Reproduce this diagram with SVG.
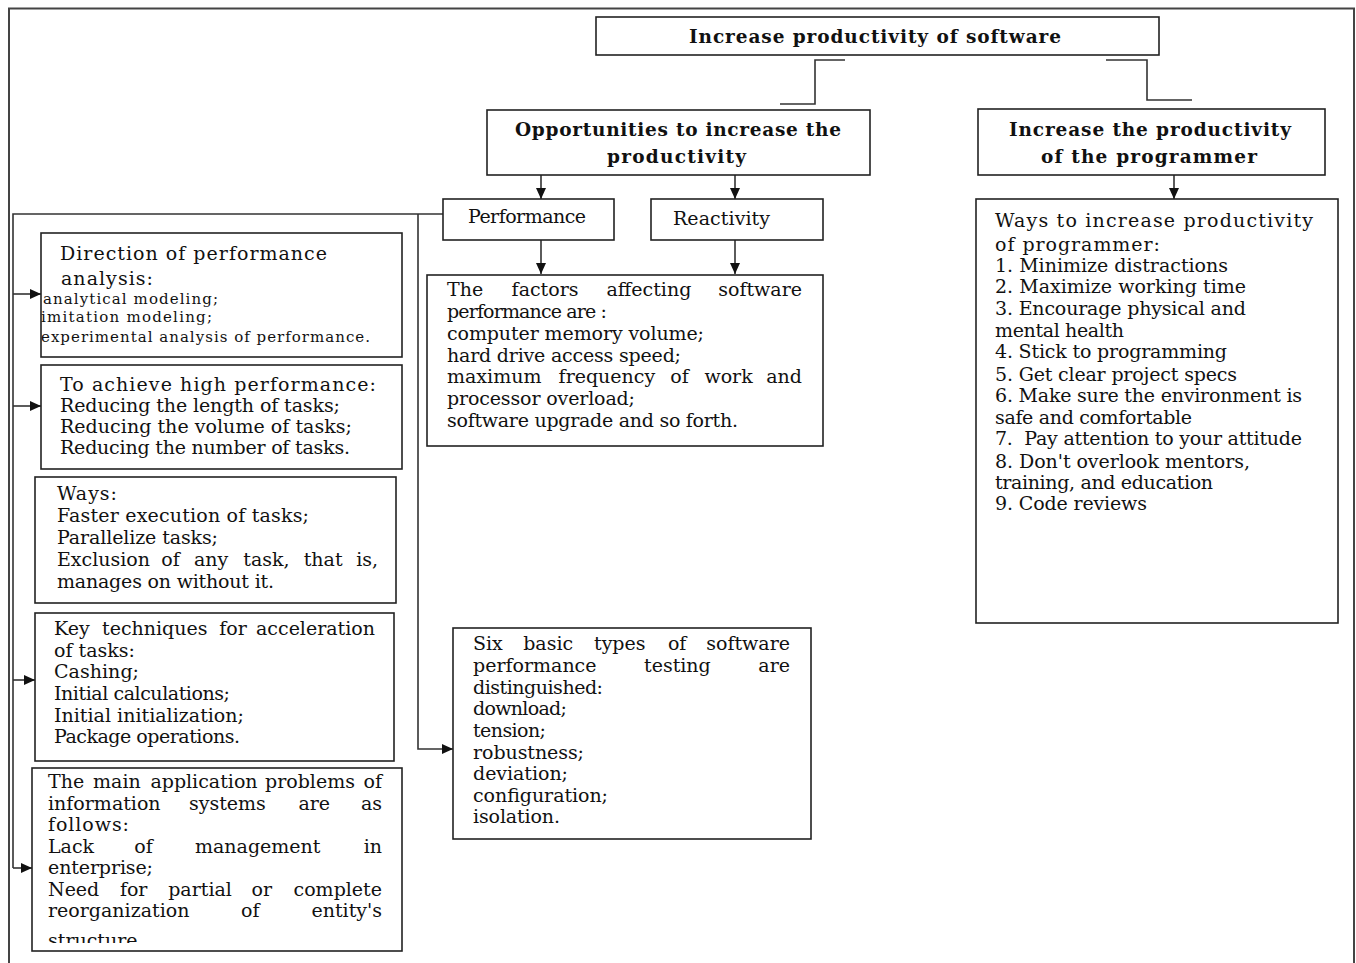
<svg xmlns="http://www.w3.org/2000/svg" width="1356" height="963" viewBox="0 0 1356 963">
<style>
.box{fill:#fff;stroke:#222;stroke-width:1.6}
.t{font-family:"DejaVu Serif","Liberation Serif",serif;font-size:19px;fill:#111}
.s{font-family:"DejaVu Serif","Liberation Serif",serif;font-size:15px;fill:#111}
.b{font-family:"DejaVu Serif","Liberation Serif",serif;font-size:18.5px;font-weight:bold;fill:#111}
.c{fill:none;stroke:#333;stroke-width:1.6}
.e{text-anchor:end}
</style>
<defs>
<marker id="ah" viewBox="0 0 11 10" refX="11" refY="5" markerWidth="11" markerHeight="10" markerUnits="userSpaceOnUse" orient="auto">
<path d="M0,0 L11,5 L0,10 z" fill="#111"/>
</marker>
<clipPath id="clipMain"><rect x="32" y="768" width="370" height="175"/></clipPath>
</defs>
<rect x="0" y="0" width="1356" height="963" fill="#fff"/>
<rect id="frame" x="9" y="8.5" width="1345" height="1000" fill="none" stroke="#444" stroke-width="2"/>

<g id="connectors">
<path class="c" d="M845,60 H815 V104 H780"/>
<path class="c" d="M1106,60 H1147 V100 H1192"/>
<path class="c" d="M541,175 V199" marker-end="url(#ah)"/>
<path class="c" d="M735,175 V199" marker-end="url(#ah)"/>
<path class="c" d="M1174,175 V199" marker-end="url(#ah)"/>
<path class="c" d="M541,240 V274" marker-end="url(#ah)"/>
<path class="c" d="M735,240 V274" marker-end="url(#ah)"/>
<path class="c" d="M443,214 H13 V868"/>
<path class="c" d="M13,294 H41" marker-end="url(#ah)"/>
<path class="c" d="M13,406 H41" marker-end="url(#ah)"/>
<path class="c" d="M13,680 H35" marker-end="url(#ah)"/>
<path class="c" d="M13,868 H32" marker-end="url(#ah)"/>
<path class="c" d="M418,214 V749 H453" marker-end="url(#ah)"/>
</g>

<g id="n-root">
<rect class="box" x="596" y="17" width="563" height="38"/>
<text class="b" x="689" y="43" textLength="372">Increase productivity of software</text>
</g>

<g id="n-opportunities">
<rect class="box" x="487" y="110" width="383" height="65"/>
<text class="b" x="515" y="136" textLength="326">Opportunities to increase the</text>
<text class="b" x="607" y="163" textLength="139">productivity</text>
</g>

<g id="n-programmer">
<rect class="box" x="978" y="109" width="347" height="66"/>
<text class="b" x="1009" y="136" textLength="282">Increase the productivity</text>
<text class="b" x="1041" y="163" textLength="216">of the programmer</text>
</g>

<g id="n-performance">
<rect class="box" x="443" y="199" width="171" height="41"/>
<text class="t" x="468" y="223" textLength="118">Performance</text>
</g>

<g id="n-reactivity">
<rect class="box" x="651" y="199" width="172" height="41"/>
<text class="t" x="673" y="225" textLength="97">Reactivity</text>
</g>

<g id="n-factors">
<rect class="box" x="427" y="275" width="396" height="171"/>
<text class="t" y="296"><tspan x="447">The</tspan><tspan x="511.6">factors</tspan><tspan x="606.5">affecting</tspan></text>
<text class="t e" x="802" y="296">software</text>
<text class="t" x="447" y="318" textLength="160">performance are :</text>
<text class="t" x="447" y="340" textLength="257">computer memory volume;</text>
<text class="t" x="447" y="362" textLength="234">hard drive access speed;</text>
<text class="t" y="383"><tspan x="447">maximum</tspan><tspan x="558.6">frequency</tspan><tspan x="670.2">of</tspan><tspan x="704.4">work</tspan></text>
<text class="t e" x="802" y="383">and</text>
<text class="t" x="447" y="405" textLength="188">processor overload;</text>
<text class="t" x="447" y="427" textLength="291">software upgrade and so forth.</text>
</g>

<g id="n-programmer-ways">
<rect class="box" x="976" y="199" width="362" height="424"/>
<text class="t" x="995" y="227" textLength="318">Ways to increase productivity</text>
<text class="t" x="995" y="251" textLength="165">of programmer:</text>
<text class="t" x="995" y="272" textLength="233">1. Minimize distractions</text>
<text class="t" x="995" y="293" textLength="251">2. Maximize working time</text>
<text class="t" x="995" y="315" textLength="251">3. Encourage physical and</text>
<text class="t" x="995" y="337" textLength="129">mental health</text>
<text class="t" x="995" y="358" textLength="232">4. Stick to programming</text>
<text class="t" x="995" y="381" textLength="242">5. Get clear project specs</text>
<text class="t" x="995" y="402" textLength="307">6. Make sure the environment is</text>
<text class="t" x="995" y="424" textLength="197">safe and comfortable</text>
<text class="t" x="995" y="445" textLength="307" xml:space="preserve" style="white-space:pre">7.  Pay attention to your attitude</text>
<text class="t" x="995" y="468" textLength="255">8. Don't overlook mentors,</text>
<text class="t" x="995" y="489" textLength="218">training, and education</text>
<text class="t" x="995" y="510" textLength="152">9. Code reviews</text>
</g>

<g id="n-direction">
<rect class="box" x="41" y="233" width="361" height="124"/>
<text class="t" x="60" y="260" textLength="267">Direction of performance</text>
<text class="t" x="61" y="285" textLength="92">analysis:</text>
<text class="s" x="43" y="304" textLength="175">analytical modeling;</text>
<text class="s" x="41" y="322" textLength="171">imitation modeling;</text>
<text class="s" x="41" y="342" textLength="329">experimental analysis of performance.</text>
</g>

<g id="n-achieve">
<rect class="box" x="41" y="365" width="361" height="104"/>
<text class="t" x="60" y="391" textLength="316">To achieve high performance:</text>
<text class="t" x="60" y="412" textLength="280">Reducing the length of tasks;</text>
<text class="t" x="60" y="433" textLength="292">Reducing the volume of tasks;</text>
<text class="t" x="60" y="454" textLength="290">Reducing the number of tasks.</text>
</g>

<g id="n-ways">
<rect class="box" x="35" y="477" width="361" height="126"/>
<text class="t" x="57" y="500" textLength="60">Ways:</text>
<text class="t" x="57" y="522" textLength="252">Faster execution of tasks;</text>
<text class="t" x="57" y="544" textLength="161">Parallelize tasks;</text>
<text class="t" y="566"><tspan x="57">Exclusion</tspan><tspan x="161.3">of</tspan><tspan x="194">any</tspan><tspan x="243.3">task,</tspan><tspan x="303.7">that</tspan></text>
<text class="t e" x="378" y="566">is,</text>
<text class="t" x="57" y="588" textLength="217">manages on without it.</text>
</g>

<g id="n-techniques">
<rect class="box" x="35" y="613" width="359" height="148"/>
<text class="t" y="635"><tspan x="54">Key</tspan><tspan x="102">techniques</tspan><tspan x="219.2">for</tspan></text>
<text class="t e" x="375" y="635">acceleration</text>
<text class="t" x="54" y="657" textLength="81">of tasks:</text>
<text class="t" x="54" y="678" textLength="85">Cashing;</text>
<text class="t" x="54" y="700" textLength="176">Initial calculations;</text>
<text class="t" x="54" y="722" textLength="190">Initial initialization;</text>
<text class="t" x="54" y="743" textLength="186">Package operations.</text>
</g>

<g id="n-problems">
<rect class="box" x="32" y="768" width="370" height="183"/>
<g clip-path="url(#clipMain)">
<text class="t" y="788"><tspan x="48">The</tspan><tspan x="93.1">main</tspan><tspan x="150.4">application</tspan><tspan x="265">problems</tspan></text>
<text class="t e" x="382" y="788">of</text>
<text class="t" y="810"><tspan x="48">information</tspan><tspan x="188.9">systems</tspan><tspan x="298.4">are</tspan></text>
<text class="t e" x="382" y="810">as</text>
<text class="t" x="48" y="831" textLength="81">follows:</text>
<text class="t" y="853"><tspan x="48">Lack</tspan><tspan x="134.2">of</tspan><tspan x="195">management</tspan></text>
<text class="t e" x="382" y="853">in</text>
<text class="t" x="48" y="874" textLength="105">enterprise;</text>
<text class="t" y="896"><tspan x="48">Need</tspan><tspan x="119.9">for</tspan><tspan x="168.2">partial</tspan><tspan x="251.6">or</tspan></text>
<text class="t e" x="382" y="896">complete</text>
<text class="t" y="917"><tspan x="48">reorganization</tspan><tspan x="241.1">of</tspan></text>
<text class="t e" x="382" y="917">entity's</text>
<text class="t" x="48" y="947">structure</text>
</g>
</g>

<g id="n-testing">
<rect class="box" x="453" y="628" width="358" height="211"/>
<text class="t" y="650"><tspan x="473">Six</tspan><tspan x="523.2">basic</tspan><tspan x="594">types</tspan><tspan x="667.9">of</tspan></text>
<text class="t e" x="790" y="650">software</text>
<text class="t" y="672"><tspan x="473">performance</tspan><tspan x="644">testing</tspan></text>
<text class="t e" x="790" y="672">are</text>
<text class="t" x="473" y="694" textLength="130">distinguished:</text>
<text class="t" x="473" y="715" textLength="94">download;</text>
<text class="t" x="473" y="737" textLength="73">tension;</text>
<text class="t" x="473" y="759" textLength="111">robustness;</text>
<text class="t" x="473" y="780" textLength="95">deviation;</text>
<text class="t" x="473" y="802" textLength="135">configuration;</text>
<text class="t" x="473" y="823" textLength="87">isolation.</text>
</g>
</svg>
